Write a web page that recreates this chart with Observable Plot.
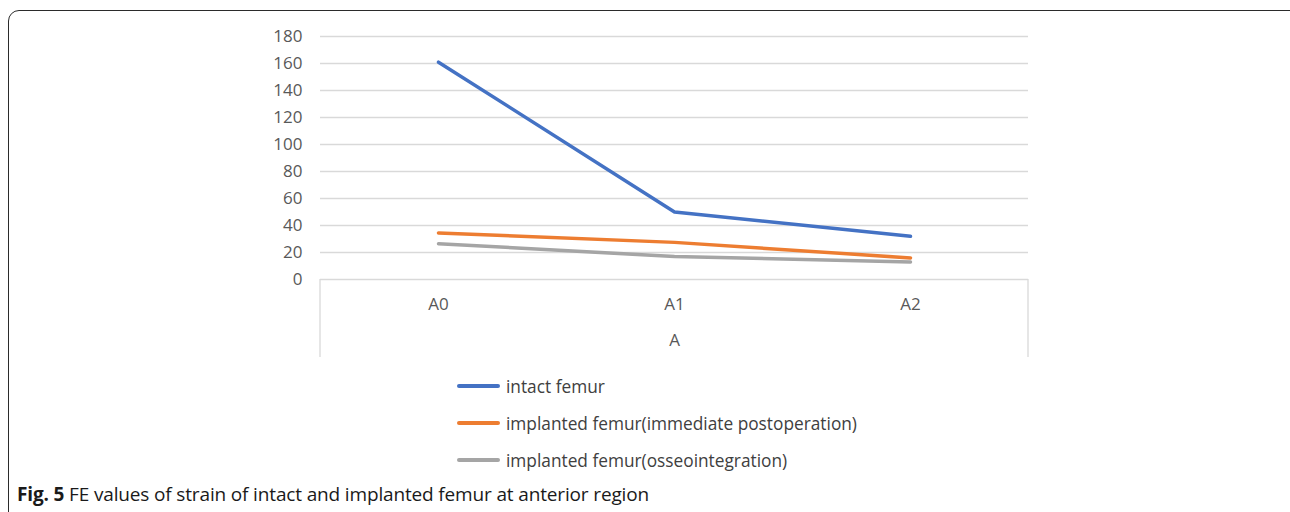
<!DOCTYPE html>
<html>
<head>
<meta charset="utf-8">
<script src="https://cdn.jsdelivr.net/npm/d3@7"></script>
<script src="https://cdn.jsdelivr.net/npm/@observablehq/plot@0.6"></script>
<style>
  html, body { margin: 0; padding: 0; background: #fff; }
  #wrap { position: relative; width: 1290px; height: 512px; overflow: hidden; font-family: "Open Sans", sans-serif; }
  #frame { position: absolute; left: 8px; top: 10px; width: 1300px; height: 540px; border: 1.5px solid #2b2b2b; border-radius: 11px; box-sizing: border-box; }
  #chart { position: absolute; left: 0; top: 0; }
  .leg { position: absolute; left: 457px; display: flex; align-items: center; font-size: 17.3px; color: #404040; height: 24px; }
  .sw { width: 43px; height: 3.5px; border-radius: 2px; margin-right: 6px; }
  #caption { position: absolute; left: 17px; top: 481px; font-size: 19px; color: #1a1a1a; font-family: "Open Sans", sans-serif; white-space: nowrap; letter-spacing: -0.15px; }
</style>
</head>
<body>
<div id="wrap">
  <div id="frame"></div>
  <div id="chart"></div>
  <div id="legend"></div>
  <div id="caption"><b>Fig. 5</b> FE values of strain of intact and implanted femur at anterior region</div>
</div>
<script>
const categories = ["A0", "A1", "A2"];
const intactFemur = [161, 50, 32];
const immediatePostop = [34.5, 27.5, 16];
const osseointegration = [26.5, 17, 13];
const seriesNames = [
  "intact femur",
  "implanted femur(immediate postoperation)",
  "implanted femur(osseointegration)"
];
const seriesColors = ["#4472c4", "#ed7d31", "#a5a5a5"];
const yTicks = [0, 20, 40, 60, 80, 100, 120, 140, 160, 180];
const axisTitle = "A";

const seriesValues = [intactFemur, immediatePostop, osseointegration];
const data = [];
seriesNames.forEach((s, i) => categories.forEach((c, j) => data.push({series: s, cat: c, value: seriesValues[i][j]})));

const plot = Plot.plot({
  width: 1290,
  height: 370,
  marginLeft: 320,
  marginRight: 262,
  marginTop: 36,
  marginBottom: 91,
  style: {fontFamily: "Open Sans, sans-serif", fontSize: "17px", color: "#595959", background: "transparent"},
  x: {type: "point", domain: categories, padding: 0.5, axis: null},
  y: {domain: [0, 180], ticks: yTicks, tickSize: 0, tickPadding: 18, label: null},
  color: {domain: seriesNames, range: seriesColors},
  marks: [
    Plot.ruleY(yTicks, {stroke: "#d9d9d9", strokeWidth: 1.3}),
    Plot.line(data, {x: "cat", y: "value", z: "series", stroke: "series", strokeWidth: 3.5, strokeLinecap: "round", strokeLinejoin: "round"}),
    Plot.text(categories, {x: d => d, frameAnchor: "bottom", dy: 30, fill: "#595959", fontSize: 17}),
    Plot.text([axisTitle], {text: d => d, frameAnchor: "bottom", dy: 66, fill: "#595959", fontSize: 17})
  ]
});
document.getElementById("chart").appendChild(plot);

// category-axis box edges below the plot
const xr = plot.scale("x").range;
const y0 = plot.scale("y").apply(0);
const svg = d3.select(plot);
[xr[0], xr[1]].forEach(x => {
  svg.append("line").attr("x1", x).attr("x2", x).attr("y1", y0).attr("y2", y0 + 78)
    .attr("stroke", "#d9d9d9").attr("stroke-width", 1.3);
});

const legend = document.getElementById("legend");
const rowCenters = [386, 423, 460];
seriesNames.forEach((s, i) => {
  const row = document.createElement("div");
  row.className = "leg";
  row.style.top = (rowCenters[i] - 12) + "px";
  const sw = document.createElement("div");
  sw.className = "sw";
  sw.style.background = seriesColors[i];
  row.appendChild(sw);
  const t = document.createElement("span");
  t.textContent = s;
  row.appendChild(t);
  legend.appendChild(row);
});
</script>
</body>
</html>
